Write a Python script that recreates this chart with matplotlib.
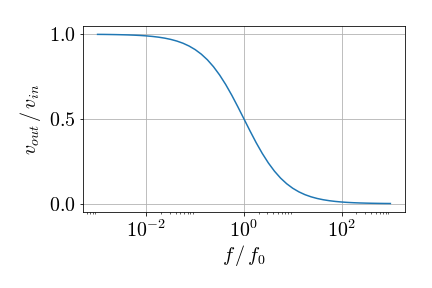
import matplotlib
matplotlib.use('Agg')
from matplotlib import pyplot as plt
from matplotlib.ticker import LogLocator, NullFormatter

# frequency ratio f/f0 and the gain
f_ratio = [0.001, 0.001334, 0.001778, 0.002371, 0.003162, 0.004217, 0.005623, 0.007499,
           0.01, 0.01334, 0.01778, 0.02371, 0.03162, 0.04217, 0.05623, 0.07499,
           0.1, 0.1334, 0.1778, 0.2371, 0.3162, 0.4217, 0.5623, 0.7499,
           1.0, 1.334, 1.778, 2.371, 3.162, 4.217, 5.623, 7.499,
           10.0, 13.34, 17.78, 23.71, 31.62, 42.17, 56.23, 74.99,
           100.0, 133.4, 177.8, 237.1, 316.2, 421.7, 562.3, 749.9, 1000.0]
gain = [0.9990, 0.9987, 0.9982, 0.9976, 0.9968, 0.9958, 0.9944, 0.9926,
        0.9901, 0.9868, 0.9825, 0.9768, 0.9693, 0.9595, 0.9468, 0.9302,
        0.9091, 0.8823, 0.8491, 0.8083, 0.7597, 0.7034, 0.6401, 0.5714,
        0.5, 0.4286, 0.3599, 0.2966, 0.2403, 0.1917, 0.1510, 0.1177,
        0.0909, 0.0698, 0.0532, 0.0405, 0.0307, 0.0232, 0.0175, 0.0132,
        0.0099, 0.0074, 0.0056, 0.0042, 0.0032, 0.0024, 0.0018, 0.0013, 0.0010]

plt.rcParams['font.family'] = 'serif'
plt.rcParams['font.serif'] = ['cmr10', 'DejaVu Serif']
plt.rcParams['mathtext.fontset'] = 'cm'
plt.rcParams['axes.formatter.use_mathtext'] = True
plt.rcParams['font.size'] = 20

fig = plt.figure(figsize=(6, 4), dpi=72)
ax = fig.add_subplot(111)
fig.subplots_adjust(left=0.192, right=0.9375, bottom=0.264, top=0.91)

ax.semilogx(f_ratio, gain)
ax.grid(True)
ax.set_yticks([0.0, 0.5, 1.0])
# minor ticks only in the decade after each labelled one
ax.xaxis.set_minor_locator(LogLocator(base=100, subs=[2, 3, 4, 5, 6, 7, 8, 9]))
ax.xaxis.set_minor_formatter(NullFormatter())
ax.set_xlabel('$f\\,/\\,f_0$', labelpad=2)
ax.set_ylabel('$v_{out}\\,/\\,v_{in}$', labelpad=6)

plt.savefig('out.png')
